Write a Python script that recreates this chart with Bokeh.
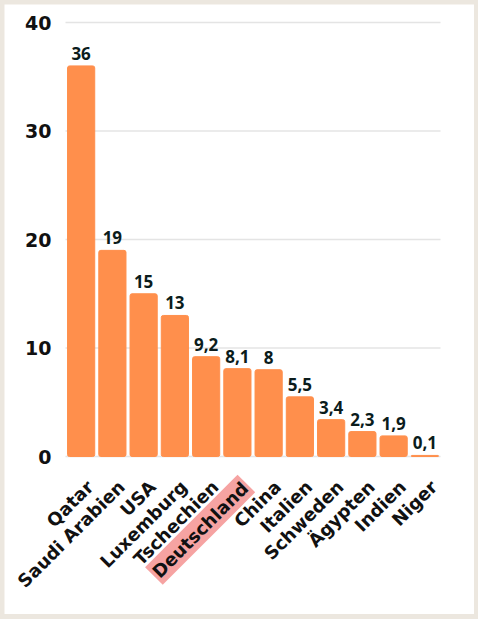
from math import pi
from bokeh.plotting import figure
from bokeh.models import ColumnDataSource, LabelSet, Label, Range1d
from bokeh.core.properties import value
from bokeh.embed import file_html
from bokeh.resources import INLINE

countries = ["Qatar", "Saudi Arabien", "USA", "Luxemburg", "Tschechien", "Deutschland",
             "China", "Italien", "Schweden", "Ägypten", "Indien", "Niger"]
values = [36, 19, 15, 13, 9.2, 8.1, 8, 5.5, 3.4, 2.3, 1.9, 0.1]
value_labels = ["36", "19", "15", "13", "9,2", "8,1", "8", "5,5", "3,4", "2,3", "1,9", "0,1"]
y_ticks = [0, 10, 20, 30, 40]
y_tick_labels = ["0", "10", "20", "30", "40"]
highlight = "Deutschland"

FONT = "Open Sans"
AXFONT = "DejaVu Sans"
BAR = "#ff8f4c"
TXT = "#111111"

n = len(countries)
xpos = [i + 0.5 for i in range(n)]          # centre of each category slot
hi = countries.index(highlight)

src = ColumnDataSource(dict(x=xpos, cat=countries, val=values, lab=value_labels,
                            zero=[0] * n))
src_cat = ColumnDataSource(dict(x=[xpos[i] for i in range(n) if i != hi],
                                cat=[countries[i] for i in range(n) if i != hi],
                                zero=[0] * (n - 1)))
src_tick = ColumnDataSource(dict(x=[0] * len(y_ticks), x1=[n] * len(y_ticks),
                                 y=y_ticks, t=y_tick_labels))

p = figure(x_range=Range1d(-1.952, 13.088), y_range=Range1d(-14.56, 41.66),
           width=470, height=610, output_backend="svg", toolbar_location=None,
           x_axis_type=None, y_axis_type=None, min_border=0)
p.outline_line_color = None
p.background_fill_color = "white"
p.border_fill_color = "white"
p.grid.visible = False

# horizontal gridlines across the category area
p.segment(x0="x", x1="x1", y0="y", y1="y", source=src_tick, line_color="#e4e4e4",
          line_width=1.5)

p.vbar(x="x", top="val", width=0.87, source=src, color=BAR, border_radius=2)

# y tick labels
tl = LabelSet(x="x", y="y", text="t", source=src_tick, text_align="right",
              text_baseline="middle", x_offset=-14, text_font=value(AXFONT),
              text_font_style="bold", text_font_size="19px", text_color=TXT)
p.add_layout(tl)

# value labels on top of the bars
vl = LabelSet(x="x", y="val", text="lab", source=src, text_align="center",
              text_baseline="alphabetic", y_offset=6, text_font=value(FONT),
              text_font_style="bold", text_font_size="17px", text_color="#0b1c1c")
p.add_layout(vl)

# rotated category labels
cl = LabelSet(x="x", y="zero", text="cat", source=src_cat, angle=pi / 4,
              text_align="right", text_baseline="middle", x_offset=9, y_offset=-27,
              text_font=value(AXFONT), text_font_style="bold", text_font_size="18px",
              text_color=TXT)
p.add_layout(cl)

hl = Label(x=xpos[hi], y=0, text=highlight, angle=pi / 4,
           text_align="right", text_baseline="middle", x_offset=9, y_offset=-27,
           text_font=AXFONT, text_font_style="bold", text_font_size="18px",
           text_color=TXT, background_fill_color="#f6a3a2", padding=2)
p.add_layout(hl)

html = file_html(p, INLINE, title="Chart")
html = html.replace("</head>", "<style>html{background:#ece7df !important;} body{margin:4px !important;background:#ece7df !important;}</style></head>", 1)
open("out.html", "w").write(html)
